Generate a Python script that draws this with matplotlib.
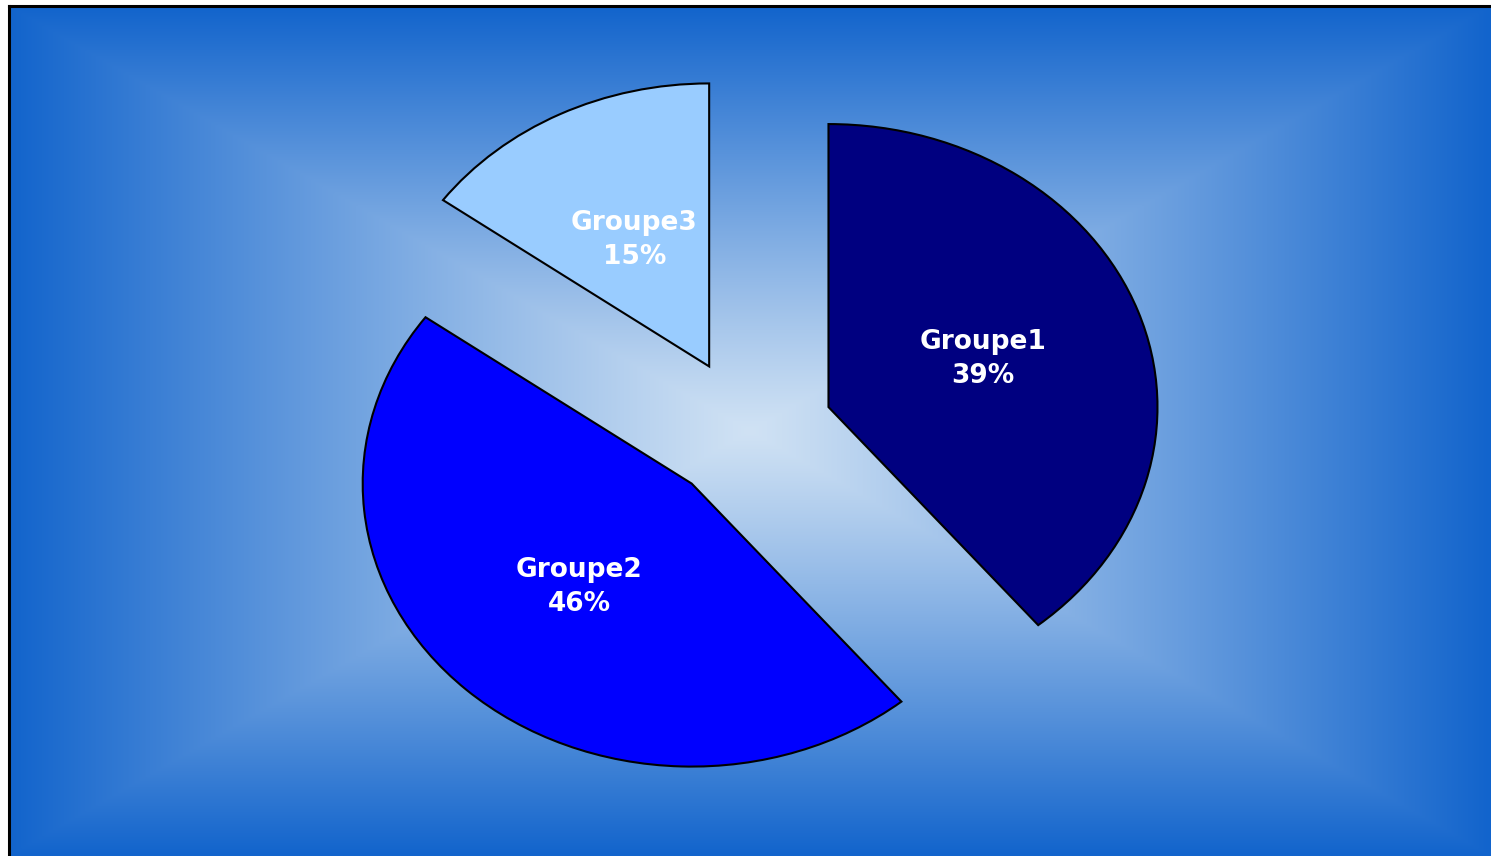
import numpy as np
import matplotlib
matplotlib.use('Agg')
import matplotlib.pyplot as plt

names = ['Groupe1', 'Groupe2', 'Groupe3']
values = [39, 46, 15]
colors = ['#000080', '#0000FF', '#99CCFF']

W, H = 1491, 856
fig = plt.figure(figsize=(W / 100, H / 100), dpi=100)
fig.patch.set_facecolor('white')

# background box with rectangular "from centre" gradient
bx0, by_top = 9, 6
bg = fig.add_axes([bx0 / W, 0, (W - bx0) / W, (H - by_top) / H])
u = np.linspace(-1, 1, 600)
v = np.linspace(-1, 1, 400)
U, V = np.meshgrid(u, v)
t = np.maximum(np.abs(U), np.abs(V))
t = np.clip(t, 0, 1) ** 1.1
c_in = np.array([208, 226, 244]) / 255
c_out = np.array([18, 100, 204]) / 255
img = c_in[None, None, :] * (1 - t[..., None]) + c_out[None, None, :] * t[..., None]
bg.imshow(img, aspect='auto', extent=[0, 1, 0, 1], interpolation='bilinear')
bg.set_xticks([]); bg.set_yticks([])
for s in ['right', 'bottom']:
    bg.spines[s].set_visible(False)
for s in ['left', 'top']:
    bg.spines[s].set_linewidth(2.2)
    bg.spines[s].set_color('black')

# pie (elliptical, exploded)
ax = fig.add_axes([0, 0, 1, 1])
ax.patch.set_alpha(0)
wedges, texts, autotexts = ax.pie(
    values, colors=colors, startangle=90, counterclock=False,
    explode=[0.26, 0.25, 0.26], autopct='%1.0f%%', pctdistance=0.5,
    wedgeprops=dict(edgecolor='black', linewidth=1.5),
    textprops=dict(color='white', fontsize=19, fontweight='bold',
                   family='DejaVu Sans', linespacing=1.4))
for n, t_ in zip(names, autotexts):
    t_.set_text(f'{n}\n{t_.get_text()}')
ax.set_aspect('auto')
rx, ry = 329, 283
cx, cy = 748, 432
ax.set_xlim(-cx / rx, (W - cx) / rx)
ax.set_ylim(-(H - cy) / ry, cy / ry)
ax.axis('off')

fig.savefig('out.png', dpi=100)
